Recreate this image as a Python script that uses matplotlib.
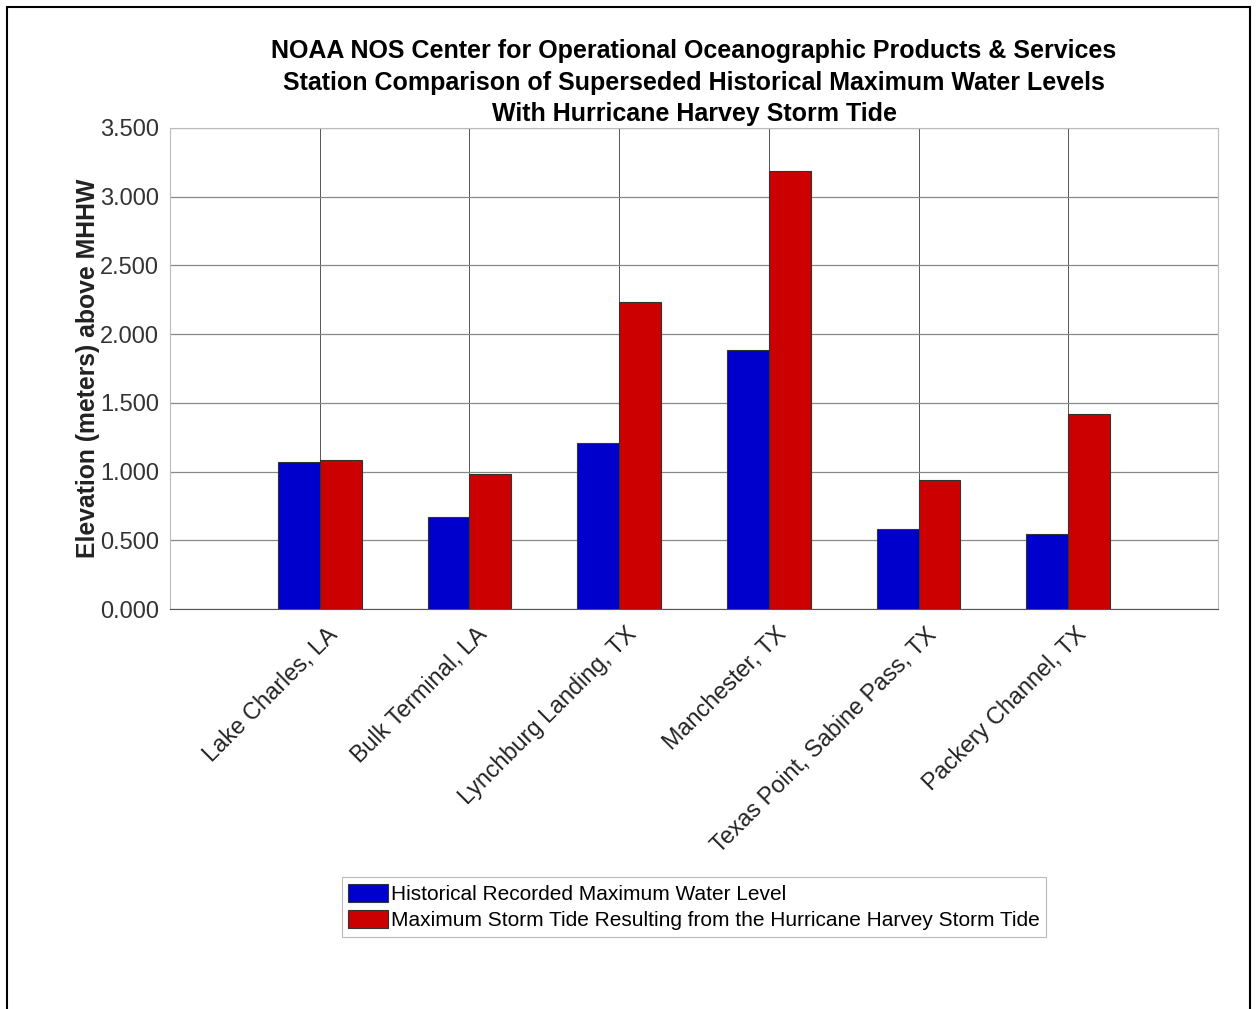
import matplotlib
matplotlib.use("Agg")
import matplotlib.pyplot as plt
import matplotlib.transforms as mtransforms
from matplotlib.patches import Rectangle
import numpy as np

stations = ["Lake Charles, LA", "Bulk Terminal, LA", "Lynchburg Landing, TX",
            "Manchester, TX", "Texas Point, Sabine Pass, TX", "Packery Channel, TX"]
historical = [1.067, 0.667, 1.206, 1.885, 0.585, 0.548]
harvey = [1.084, 0.982, 2.237, 3.190, 0.939, 1.421]
yticks = [0.0, 0.5, 1.0, 1.5, 2.0, 2.5, 3.0, 3.5]

plt.rcParams["font.family"] = ["Liberation Sans", "DejaVu Sans"]

fig = plt.figure(figsize=(12.57, 10.09), dpi=100)
W, H = 1257, 1009
ax = fig.add_axes([170 / W, 1 - 609 / H, (1218 - 170) / W, (609 - 128) / H])

x = np.arange(1, len(stations) + 1)
bw = 0.28
ax.bar(x - bw / 2, historical, bw, color="#0000CC", edgecolor="#333333", lw=0.8,
       label="Historical Recorded Maximum Water Level", zorder=3)
ax.bar(x + bw / 2, harvey, bw, color="#CC0000", edgecolor="#333333", lw=0.8,
       label="Maximum Storm Tide Resulting from the Hurricane Harvey Storm Tide", zorder=3)

ax.set_xlim(0, len(stations) + 1)
ax.set_ylim(0, 3.5)
ax.set_yticks(yticks)
ax.set_yticklabels([f"{v:.3f}" for v in yticks], fontsize=17, color="#333333")
ax.set_xticks(x)
ax.set_xticklabels(stations, rotation=45, ha="right", va="top",
                   rotation_mode="anchor", fontsize=16.8, color="#222222")
ax.tick_params(axis="both", length=0)
ax.tick_params(axis="y", pad=8)
ax.tick_params(axis="x", pad=10)
shift = mtransforms.ScaledTranslation(0.06, 0, fig.dpi_scale_trans)
for lab in ax.get_xticklabels():
    lab.set_transform(lab.get_transform() + shift)
ax.grid(axis="y", color="#888888", lw=0.9, zorder=0)
ax.grid(axis="x", color="#555555", lw=0.7, zorder=0)
for s in ax.spines.values():
    s.set_color("#bbbbbb")
ax.spines["bottom"].set_color("#555555")
ax.set_ylabel("Elevation (meters) above MHHW", fontsize=17.8, fontweight="bold",
              color="#222222", labelpad=0)

title_lines = ["NOAA NOS Center for Operational Oceanographic Products & Services",
               "Station Comparison of Superseded Historical Maximum Water Levels",
               "With Hurricane Harvey Storm Tide"]
for line, ypx in zip(title_lines, [51, 83, 114]):
    fig.text(694 / W, 1 - ypx / H, line, ha="center", va="center",
             fontsize=18, fontweight="bold")

leg = fig.legend(loc="center", bbox_to_anchor=(694 / W, 1 - 907 / H), fontsize=15,
                 frameon=True, fancybox=False, edgecolor="#aaaaaa", handlelength=1.9,
                 handleheight=0.95, handletextpad=0.15, borderpad=0.3, labelspacing=0.3,
                 borderaxespad=0)
leg.get_frame().set_linewidth(0.8)

# outer frame of the picture
fig.add_artist(Rectangle((7 / W, -0.05), (1250 - 7) / W, 1.05 - 7 / H,
                         transform=fig.transFigure, fill=False, ec="black", lw=1.5))

fig.savefig("out.png", dpi=100)
